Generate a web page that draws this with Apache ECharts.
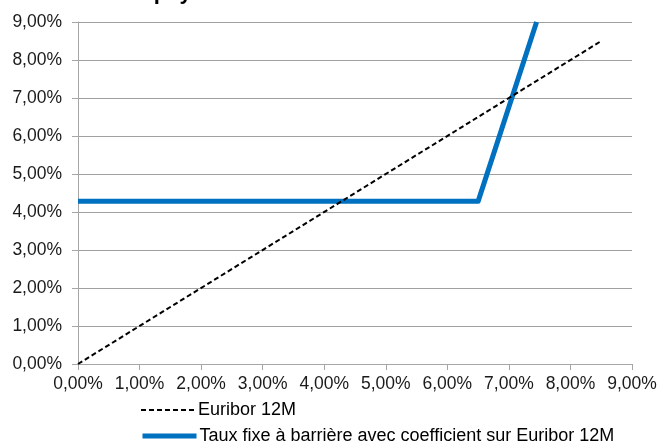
<!DOCTYPE html>
<html>
<head>
<meta charset="utf-8">
<script src="https://cdn.jsdelivr.net/npm/echarts@6/dist/echarts.min.js"></script>
<style>
  html, body { margin: 0; padding: 0; background: #fff; }
  #chart { width: 662px; height: 445px; }
</style>
</head>
<body>
<div id="chart"></div>
<script>
// Euribor 12M (x) against the rate paid (y), both in %
const euriborX = [0, 8.5];
const euriborY = [0, 8.5];

// Barrier fixed rate with a coefficient applied above the barrier
const barrierX = [0, 6.5, 7.45];
const barrierY = [4.28, 4.28, 9.0];

const seriesNames = ['Euribor 12M', 'Taux fixe à barrière avec coefficient sur Euribor 12M'];
const titleText = 'Taux payé';

const pct = v => v.toFixed(2).replace('.', ',') + '%';
const pairs = (xs, ys) => xs.map((x, i) => [x, ys[i]]);

const font = 'Liberation Sans, Arial, sans-serif';
const chart = echarts.init(document.getElementById('chart'), null, { renderer: 'canvas' });

// one legend entry per line, stacked under the plot
const legendEntry = (name, top, lineWidth) => ({
  orient: 'vertical',
  left: 140,
  top: top,
  padding: 0,
  itemWidth: 54,
  itemHeight: 14,
  itemStyle: { color: 'rgba(0,0,0,0)', borderWidth: 0 },
  lineStyle: { width: lineWidth },
  textStyle: { fontFamily: font, fontSize: 18, color: '#000', padding: [0, 0, 0, -2] },
  data: [name]
});

chart.setOption({
  animation: false,
  backgroundColor: '#fff',
  title: {
    text: titleText,
    left: 93,
    top: -23,
    textStyle: { fontFamily: font, fontSize: 22, fontWeight: 'bold', color: '#000' }
  },
  grid: { left: 78, right: 30, top: 22, bottom: 81, containLabel: false },
  legend: [
    legendEntry(seriesNames[0], 401, 2),
    legendEntry(seriesNames[1], 427, 5)
  ],
  xAxis: {
    type: 'value',
    min: 0, max: 9, interval: 1,
    axisLine: { show: true, lineStyle: { color: '#a6a6a6', width: 1 } },
    axisTick: { show: true, length: 6, lineStyle: { color: '#a6a6a6' } },
    splitLine: { show: false },
    axisLabel: { formatter: pct, fontFamily: font, fontSize: 17.5, color: '#1a1a1a', margin: 11 }
  },
  yAxis: {
    type: 'value',
    min: 0, max: 9, interval: 1,
    axisLine: { show: true, lineStyle: { color: '#a6a6a6', width: 1 } },
    axisTick: { show: true, length: 6, lineStyle: { color: '#a6a6a6' } },
    splitLine: { show: true, lineStyle: { color: '#a0a0a0', width: 1 } },
    axisLabel: { formatter: pct, fontFamily: font, fontSize: 17.5, color: '#1a1a1a', margin: 16 }
  },
  series: [
    {
      name: seriesNames[0],
      type: 'line',
      data: pairs(euriborX, euriborY),
      symbol: 'none',
      lineStyle: { color: '#000', width: 2, type: [5, 3] },
      itemStyle: { color: '#000' },
      z: 3
    },
    {
      name: seriesNames[1],
      type: 'line',
      data: pairs(barrierX, barrierY),
      symbol: 'none',
      clip: true,
      lineStyle: { color: '#0070c0', width: 5, join: 'round', cap: 'butt' },
      itemStyle: { color: '#0070c0' },
      z: 2
    }
  ]
});
</script>
</body>
</html>
